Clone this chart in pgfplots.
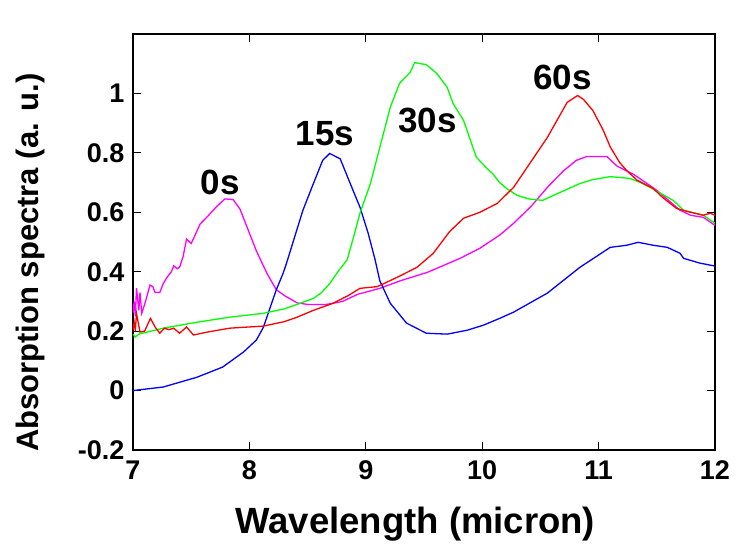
\documentclass[border=0pt]{standalone}
\usepackage{fontspec}
\setmainfont{Liberation Sans}
\usepackage{pgfplots}
\pgfplotsset{compat=1.18}
\definecolor{mmag}{rgb}{1,0,1}
\definecolor{mgreen}{rgb}{0,1,0}
\definecolor{mblue}{rgb}{0,0,1}
\definecolor{mred}{rgb}{1,0,0}
\begin{document}
\begin{tikzpicture}
\useasboundingbox (-133pt,-97pt) rectangle (603pt,450pt);
\begin{axis}[
  at={(0,0)}, anchor=south west,
  scale only axis, width=582pt, height=416pt,
  xmin=7, xmax=12, ymin=-0.2, ymax=1.2,
  xtick={7,8,9,10,11,12},
  ytick={-0.2,0,0.2,0.4,0.6,0.8,1},
  yticklabels={-0.2,0,0.2,0.4,0.6,0.8,1},
  /pgf/number format/assume math mode=true,
  ticklabel style={font=\fontsize{27}{29}\selectfont\bfseries},
  xticklabel style={yshift=-7pt},
  yticklabel style={xshift=-5pt},
  major tick length=8pt,
  tick style={black, line width=1.2pt},
  axis line style={line width=1.5pt},
  xlabel={Wavelength (micron)},
  ylabel={Absorption spectra (a. u.)},
  xlabel style={font=\fontsize{36.5}{39}\selectfont\bfseries, at={(rel axis cs:0.485,0)}, anchor=center, yshift=-74pt},
  ylabel style={font=\fontsize{31}{34}\selectfont\bfseries, at={(rel axis cs:0,0.45)}, anchor=center, rotate=0, yshift=103pt},
  clip=true,
]
\addplot[mmag, line width=1.3pt] coordinates {
(7.0,0.26)(7.01,0.30)(7.02,0.25)(7.03,0.345)(7.05,0.27)(7.06,0.33)(7.075,0.26)(7.1,0.29)(7.146,0.355)(7.17,0.35)(7.19,0.33)(7.23,0.33)(7.26,0.36)(7.29,0.38)(7.33,0.40)(7.35,0.42)(7.38,0.41)(7.40,0.415)(7.43,0.45)(7.46,0.51)(7.50,0.495)(7.53,0.52)(7.576,0.56)(7.65,0.59)(7.72,0.62)(7.79,0.645)(7.86,0.643)(7.92,0.61)(7.98,0.55)(8.06,0.47)(8.15,0.395)(8.23,0.34)(8.30,0.32)(8.41,0.295)(8.5,0.29)(8.66,0.29)(8.72,0.294)(8.8,0.30)(8.93,0.324)(9.12,0.344)(9.3,0.37)(9.53,0.398)(9.81,0.445)(9.98,0.479)(10.15,0.523)(10.27,0.563)(10.42,0.62)(10.56,0.684)(10.7,0.74)(10.81,0.775)(10.9,0.788)(11.07,0.788)(11.16,0.755)(11.30,0.728)(11.5,0.674)(11.70,0.607)(11.79,0.59)(11.9,0.583)(12.0,0.556)
};
\addplot[mblue, line width=1.3pt] coordinates {
(7.0,0.0)(7.26,0.012)(7.55,0.045)(7.77,0.079)(7.95,0.13)(8.06,0.17)(8.12,0.213)(8.15,0.247)(8.20,0.304)(8.23,0.338)(8.29,0.395)(8.32,0.43)(8.38,0.506)(8.46,0.607)(8.55,0.697)(8.63,0.775)(8.69,0.798)(8.78,0.78)(8.89,0.674)(8.95,0.617)(9.02,0.53)(9.08,0.44)(9.12,0.37)(9.21,0.294)(9.35,0.227)(9.52,0.193)(9.70,0.19)(9.87,0.203)(10.01,0.22)(10.15,0.243)(10.27,0.264)(10.56,0.328)(10.84,0.415)(11.10,0.482)(11.24,0.489)(11.34,0.499)(11.47,0.489)(11.59,0.482)(11.70,0.462)(11.73,0.445)(11.87,0.429)(12.0,0.419)
};
\addplot[mgreen, line width=1.3pt] coordinates {
(7.0,0.19)(7.02,0.18)(7.05,0.19)(7.26,0.21)(7.55,0.23)(7.83,0.247)(8.12,0.26)(8.3,0.275)(8.41,0.29)(8.55,0.31)(8.62,0.33)(8.69,0.36)(8.76,0.40)(8.84,0.44)(8.89,0.51)(8.95,0.597)(9.04,0.697)(9.12,0.818)(9.21,0.953)(9.29,1.034)(9.38,1.07)(9.42,1.104)(9.47,1.10)(9.52,1.097)(9.61,1.067)(9.70,1.02)(9.75,0.966)(9.84,0.909)(9.95,0.785)(10.04,0.748)(10.09,0.73)(10.15,0.70)(10.21,0.68)(10.30,0.657)(10.40,0.645)(10.52,0.64)(10.6,0.655)(10.67,0.667)(10.84,0.697)(10.95,0.71)(11.10,0.72)(11.27,0.714)(11.36,0.70)(11.44,0.684)(11.55,0.66)(11.64,0.64)(11.73,0.607)(11.9,0.59)(12.0,0.563)
};
\addplot[mred, line width=1.3pt] coordinates {
(7.0,0.203)(7.01,0.23)(7.02,0.20)(7.03,0.26)(7.06,0.197)(7.10,0.20)(7.15,0.243)(7.19,0.214)(7.23,0.193)(7.27,0.21)(7.31,0.205)(7.35,0.21)(7.40,0.193)(7.46,0.214)(7.52,0.187)(7.58,0.192)(7.64,0.197)(7.83,0.21)(8.12,0.217)(8.3,0.232)(8.41,0.247)(8.55,0.27)(8.72,0.294)(8.85,0.32)(8.95,0.344)(9.10,0.35)(9.29,0.385)(9.44,0.415)(9.58,0.462)(9.72,0.535)(9.84,0.58)(9.98,0.60)(10.13,0.63)(10.27,0.684)(10.41,0.765)(10.56,0.852)(10.73,0.97)(10.82,0.993)(10.87,0.98)(10.95,0.943)(11.04,0.876)(11.10,0.82)(11.18,0.768)(11.24,0.741)(11.33,0.708)(11.47,0.68)(11.55,0.65)(11.67,0.613)(11.76,0.603)(11.9,0.59)(11.96,0.597)(12.0,0.59)
};
\node[font=\fontsize{35}{38}\selectfont\bfseries] at (axis cs:7.75,0.70) {0s};
\node[font=\fontsize{35}{38}\selectfont\bfseries] at (axis cs:8.65,0.865) {15s};
\node[font=\fontsize{35}{38}\selectfont\bfseries] at (axis cs:9.53,0.91) {30s};
\node[font=\fontsize{35}{38}\selectfont\bfseries] at (axis cs:10.69,1.054) {60s};
\end{axis}
\end{tikzpicture}
\end{document}
